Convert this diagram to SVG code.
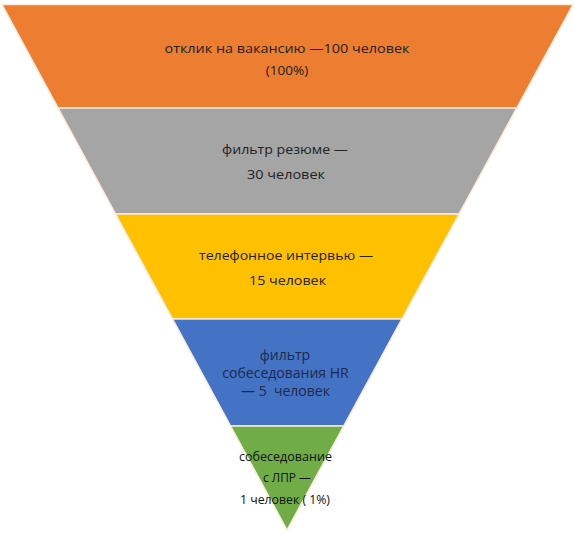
<svg xmlns="http://www.w3.org/2000/svg" width="575" height="534" viewBox="0 0 575 534">
<style>
.band{stroke:#fbe9dc;stroke-width:1.5}
.t{font-family:"Open Sans","Liberation Sans",sans-serif;text-anchor:middle;fill:#222}
.t1{font-size:13.5px}
.t4{font-size:14px;fill:#1c2a4d}
.t5{font-size:12px;fill:#111}
</style>
<rect width="575" height="534" fill="#ffffff"/>
<g id="stage1">
<polygon class="band" fill="#ED7D31" points="2,4.5 573,4.5 516.7,108 58.1,108"/>
<text class="t t1" x="287" y="53" textLength="245" lengthAdjust="spacingAndGlyphs">отклик на вакансию —100 человек</text>
<text class="t t1" x="287" y="75">(100%)</text>
</g>
<g id="stage2">
<polygon class="band" fill="#A5A5A5" points="58.1,108 516.7,108 459,214 115.6,214"/>
<text class="t t1" x="285" y="154" textLength="126" lengthAdjust="spacingAndGlyphs">фильтр резюме —</text>
<text class="t t1" x="286" y="179" textLength="78" lengthAdjust="spacingAndGlyphs">30 человек</text>
</g>
<g id="stage3">
<polygon class="band" fill="#FFC000" points="115.6,214 459,214 401.8,319 172.6,319"/>
<text class="t t1" x="286" y="260" textLength="174" lengthAdjust="spacingAndGlyphs">телефонное интервью —</text>
<text class="t t1" x="287.5" y="285" textLength="77" lengthAdjust="spacingAndGlyphs">15 человек</text>
</g>
<g id="stage4">
<polygon class="band" fill="#4472C4" points="172.6,319 401.8,319 343.7,426 230.6,426"/>
<text class="t t4" x="285" y="360">фильтр</text>
<text class="t t4" x="285.5" y="378">собеседования HR</text>
<text class="t t4" x="285.5" y="396" xml:space="preserve">— 5  человек</text>
</g>
<g id="stage5">
<polygon class="band" fill="#70AD47" points="230.6,426 343.7,426 287,530"/>
<text class="t t5" x="285.5" y="461" textLength="93" lengthAdjust="spacingAndGlyphs">собеседование</text>
<text class="t t5" x="287" y="482" textLength="48" lengthAdjust="spacingAndGlyphs">с ЛПР —</text>
<text class="t t5" x="285" y="504" textLength="90" lengthAdjust="spacingAndGlyphs">1 человек ( 1%)</text>
</g>
<g id="connectors"/>
</svg>
